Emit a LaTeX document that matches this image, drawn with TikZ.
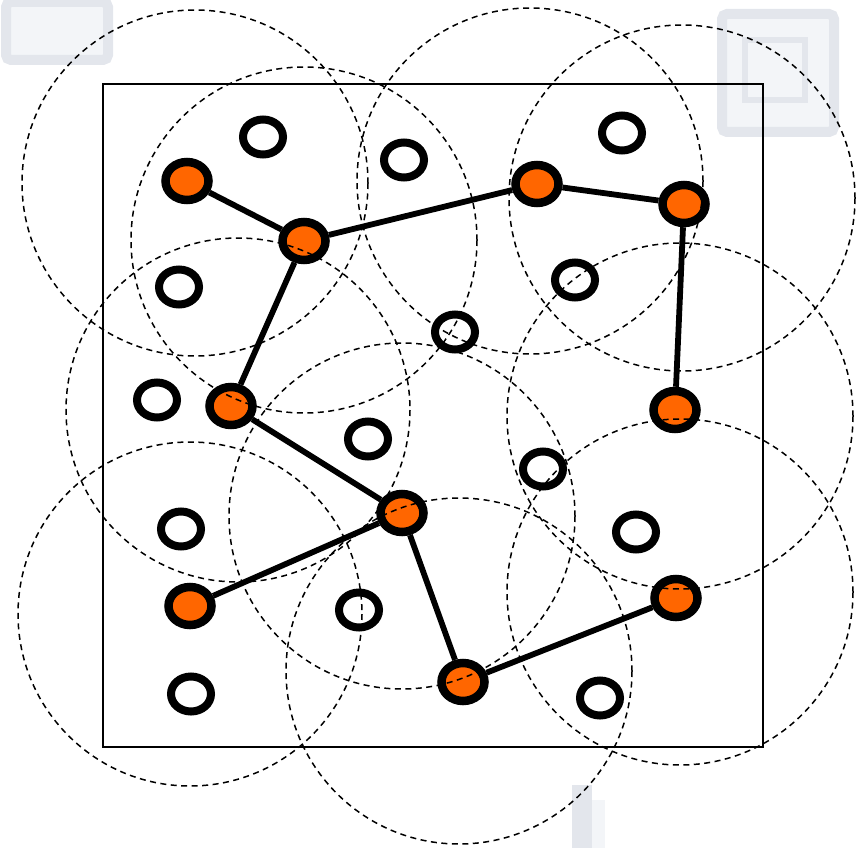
\documentclass[tikz,border=0pt]{standalone}
\usetikzlibrary{shapes.geometric}
\definecolor{nodeorange}{HTML}{FF6600}
\definecolor{ghost}{HTML}{E3E6EC}
\definecolor{ghostfill}{HTML}{F3F5F8}
\begin{document}
\begin{tikzpicture}[x=1pt,y=-1pt,
  active/.style={ellipse,draw=black,line width=8.5pt,fill=nodeorange,minimum width=43pt,minimum height=38pt,inner sep=0pt},
  idle/.style={ellipse,draw=black,line width=8pt,minimum width=40pt,minimum height=35pt,inner sep=0pt},
  link/.style={line width=5.8pt},
  radiocircle/.style={draw=black,line width=1.5pt,dash pattern=on 6pt off 4.5pt},
  ghostbox/.style={draw=ghost,fill=ghostfill,line width=10pt,rounded corners=5pt}]
\useasboundingbox (0,0) rectangle (859,848);
% faint background marks
\draw[ghostbox] (6,2) rectangle (108,60);
\draw[ghostbox] (722,14) rectangle (834,132);
\draw[ghost,line width=6pt] (745,40) rectangle (805,100);
\fill[ghost] (572,785) rectangle (592,848);
\fill[ghostfill] (592,800) rectangle (605,848);
% area
\draw[line width=1.6pt] (103,84) rectangle (763,747);
% nodes
\node[active] (A) at (187,181) {};
\node[active] (B) at (304,241) {};
\node[active] (C) at (537,184) {};
\node[active] (D) at (684,204) {};
\node[active] (E) at (231,406) {};
\node[active] (F) at (675,410) {};
\node[active] (G) at (402,513) {};
\node[active] (H) at (190,606) {};
\node[active] (I) at (676,598) {};
\node[active] (J) at (463,682) {};
\node[idle] (w1) at (263,137) {};
\node[idle] (w2) at (404,160) {};
\node[idle] (w3) at (622,133) {};
\node[idle] (w4) at (179,287) {};
\node[idle] (w5) at (575,280) {};
\node[idle] (w6) at (455,332) {};
\node[idle] (w7) at (157,400) {};
\node[idle] (w8) at (368,439) {};
\node[idle] (w9) at (543,469) {};
\node[idle] (w10) at (181,529) {};
\node[idle] (w11) at (636,532) {};
\node[idle] (w12) at (359,610) {};
\node[idle] (w13) at (191,694) {};
\node[idle] (w14) at (600,698) {};
% links
\draw[link] (A) -- (B);
\draw[link] (B) -- (C);
\draw[link] (C) -- (D);
\draw[link] (D) -- (F);
\draw[link] (B) -- (E);
\draw[link] (E) -- (G);
\draw[link] (G) -- (H);
\draw[link] (G) -- (J);
\draw[link] (J) -- (I);
% ranges
\draw[radiocircle] (195,183) circle (173);
\draw[radiocircle] (304,240) circle (173);
\draw[radiocircle] (530,181) circle (173);
\draw[radiocircle] (682,198) circle (173);
\draw[radiocircle] (238,410) circle (172);
\draw[radiocircle] (680,416) circle (173);
\draw[radiocircle] (402,516) circle (173);
\draw[radiocircle] (190,614) circle (172);
\draw[radiocircle] (680,592) circle (173);
\draw[radiocircle] (459,671) circle (173);
\end{tikzpicture}
\end{document}
